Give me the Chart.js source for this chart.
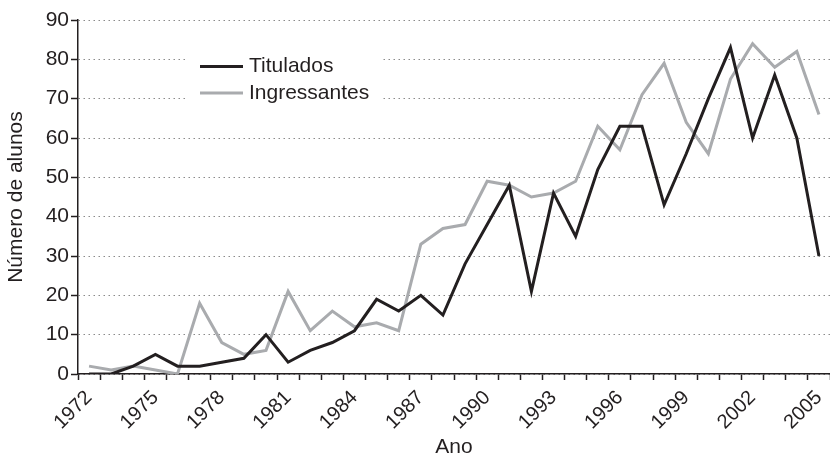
<!DOCTYPE html>
<html>
<head>
<meta charset="utf-8">
<script src="https://cdn.jsdelivr.net/npm/chart.js@4/dist/chart.umd.min.js"></script>
<style>
html,body{margin:0;padding:0;background:#fff;}
#wrap{width:830px;height:455px;position:relative;}
</style>
</head>
<body>
<div id="wrap"><canvas id="c" width="830" height="455"></canvas></div>
<script>
const years = ['1972','1973','1974','1975','1976','1977','1978','1979','1980','1981','1982','1983','1984','1985','1986','1987','1988','1989','1990','1991','1992','1993','1994','1995','1996','1997','1998','1999','2000','2001','2002','2003','2004','2005'];
const titulados = [0,0,2,5,2,2,3,4,10,3,6,8,11,19,16,20,15,28,38,48,21,46,35,52,63,63,43,56,70,83,60,76,60,30];
const ingressantes = [2,1,2,1,0,18,8,5,6,21,11,16,12,13,11,33,37,38,49,48,45,46,49,63,57,71,79,64,56,75,84,78,82,66];
const yTicks = [0,10,20,30,40,50,60,70,80,90];
const seriesNames = ['Titulados','Ingressantes'];
const seriesColors = ['#231f20','#a9abae'];

const FONT = "'Liberation Sans', Arial, sans-serif";
const FS = 21;

const legendPlugin = {
  id: 'innerLegend',
  afterDatasetsDraw(chart) {
    const ctx = chart.ctx;
    ctx.save();
    ctx.fillStyle = '#fff';
    ctx.fillRect(185, 48, 198, 62);
    const rows = [66.5, 93];
    chart.data.datasets.forEach((ds, i) => {
      ctx.strokeStyle = ds.borderColor;
      ctx.lineWidth = 3;
      ctx.beginPath();
      ctx.moveTo(200, rows[i]);
      ctx.lineTo(243, rows[i]);
      ctx.stroke();
      ctx.fillStyle = '#231f20';
      ctx.font = FS + 'px ' + FONT;
      ctx.textBaseline = 'middle';
      ctx.textAlign = 'left';
      ctx.fillText(ds.label, 249, rows[i]);
    });
    ctx.restore();
  }
};

new Chart(document.getElementById('c'), {
  type: 'line',
  data: {
    labels: years,
    datasets: [
      {label: seriesNames[0], data: titulados, borderColor: seriesColors[0], borderWidth: 3, pointRadius: 0, tension: 0, fill: false, borderJoinStyle: 'miter'},
      {label: seriesNames[1], data: ingressantes, borderColor: seriesColors[1], borderWidth: 3, pointRadius: 0, tension: 0, fill: false, borderJoinStyle: 'miter'}
    ]
  },
  options: {
    responsive: false,
    maintainAspectRatio: false,
    animation: false,
    devicePixelRatio: 1,
    layout: {padding: {top: 20, right: 0, left: 0, bottom: 0}},
    plugins: {legend: {display: false}, tooltip: {enabled: false}},
    scales: {
      x: {
        type: 'category',
        offset: true,
        grid: {offset: true, drawOnChartArea: false, drawTicks: true, tickLength: 6, tickColor: '#231f20', tickWidth: 1.5},
        border: {display: true, color: '#231f20', width: 1.5},
        ticks: {
          autoSkip: false, minRotation: 45, maxRotation: 45, color: '#231f20', padding: 6,
          font: {family: FONT, size: 20},
          callback: function(v, i) { return i % 3 === 0 ? years[i] : ''; }
        },
        title: {display: true, text: 'Ano', color: '#231f20', font: {family: FONT, size: FS, lineHeight: 1}, padding: {top: 0, bottom: -3}},
        afterFit(s) { s.height = 81; s.paddingLeft = 0; s.paddingRight = 0; }
      },
      y: {
        min: 0, max: 90,
        afterBuildTicks(s) { s.ticks = yTicks.map(v => ({value: v})); },
        grid: {color: '#8a8a8a', lineWidth: 1, drawTicks: true, tickLength: 7, tickColor: '#231f20', tickWidth: 1.5, tickBorderDash: []},
        border: {display: true, color: '#231f20', width: 1.5, dash: [1.5, 3.5]},
        ticks: {autoSkip: false, color: '#231f20', padding: 2, font: {family: FONT, size: FS}},
        title: {display: true, text: 'Número de alunos', color: '#231f20', font: {family: FONT, size: FS}, padding: {top: 4, bottom: 0}},
        afterFit(s) { s.width = 78; s.paddingTop = 0; s.paddingBottom = 0; }
      }
    }
  },
  plugins: [legendPlugin]
});
</script>
</body>
</html>
